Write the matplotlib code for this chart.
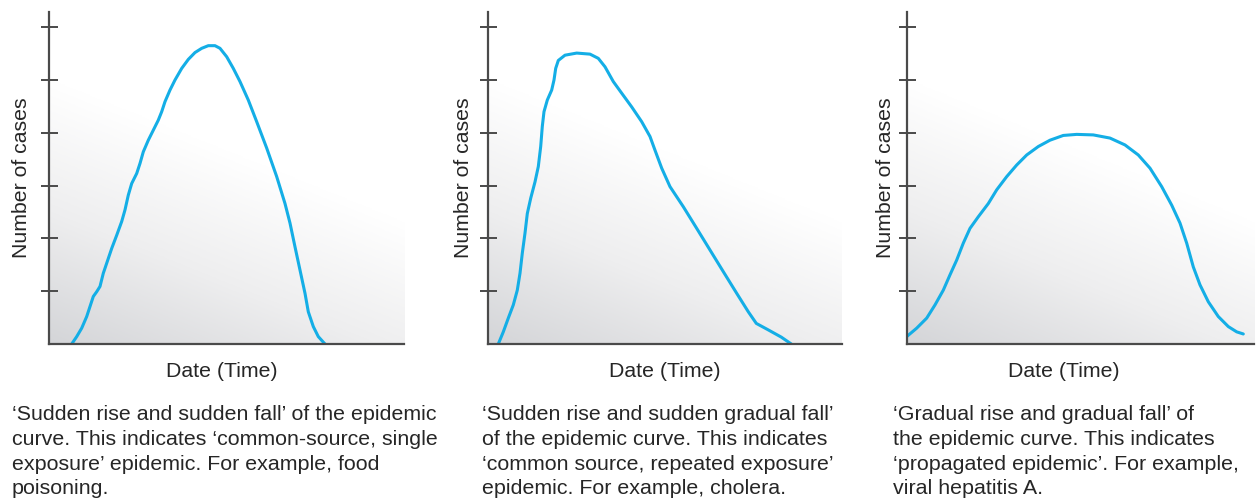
import numpy as np
import matplotlib
matplotlib.use("Agg")
import matplotlib.pyplot as plt
from matplotlib.colors import LinearSegmentedColormap

plt.rcParams['font.family'] = ['Liberation Sans', 'DejaVu Sans']

# ---- data (x in arbitrary time units, y in tick units) ----
x1 = [2.27, 2.77, 3.27, 3.77, 4.10, 4.43, 4.77, 5.10, 5.43, 5.77, 6.27, 6.77, 7.27, 7.60,
      7.93, 8.27, 8.77, 9.10, 9.43, 9.93, 10.43, 10.93, 11.27, 11.60, 12.10, 12.60, 13.27,
      13.93, 14.60, 15.27, 15.93, 16.60, 17.10, 17.77, 18.43, 19.10, 19.93, 20.77, 21.77,
      22.77, 23.60, 24.10, 24.60, 25.10, 25.60, 25.93, 26.43, 26.93, 27.60]
y1 = [0.0, 0.14, 0.30, 0.52, 0.71, 0.90, 0.99, 1.09, 1.34, 1.53, 1.81, 2.06, 2.32, 2.54,
      2.82, 3.04, 3.23, 3.42, 3.64, 3.86, 4.05, 4.24, 4.40, 4.59, 4.81, 5.00, 5.22,
      5.39, 5.52, 5.60, 5.65, 5.65, 5.60, 5.44, 5.22, 4.97, 4.62, 4.21, 3.71,
      3.17, 2.66, 2.29, 1.84, 1.40, 0.96, 0.61, 0.33, 0.14, 0.0]

x2 = [1.03, 1.53, 2.03, 2.53, 2.93, 3.20, 3.43, 3.70, 3.93, 4.27, 4.70, 5.03, 5.27, 5.43,
      5.60, 5.93, 6.37, 6.60, 6.77, 7.03, 7.70, 8.87, 10.20, 11.03, 11.70, 12.53, 13.37,
      14.37, 15.37, 16.20, 16.70, 17.37, 18.20, 19.53, 20.87, 22.20, 23.53, 24.87, 26.03,
      26.83, 28.00, 29.33, 30.33]
y2 = [0.0, 0.23, 0.49, 0.74, 1.02, 1.34, 1.72, 2.10, 2.47, 2.76, 3.07, 3.36, 3.74, 4.12,
      4.40, 4.62, 4.81, 5.00, 5.22, 5.37, 5.47, 5.51, 5.49, 5.41, 5.25, 4.97, 4.75,
      4.49, 4.21, 3.93, 3.67, 3.33, 2.98, 2.60, 2.19, 1.78, 1.37, 0.96, 0.61,
      0.39, 0.27, 0.13, 0.0]

x3 = [0.02, 1.02, 2.02, 2.85, 3.68, 4.35, 5.02, 5.68, 6.35, 7.18, 8.18, 9.02, 10.02, 11.02,
      12.02, 13.18, 14.35, 15.68, 17.02, 18.68, 20.35, 21.85, 23.18, 24.35, 25.52, 26.52,
      27.35, 28.02, 28.68, 29.35, 30.18, 31.18, 32.18, 33.02, 33.68]
y3 = [0.14, 0.30, 0.49, 0.74, 1.02, 1.31, 1.59, 1.91, 2.19, 2.41, 2.66, 2.92, 3.17, 3.39,
      3.58, 3.74, 3.86, 3.95, 3.97, 3.96, 3.90, 3.77, 3.58, 3.33, 2.98, 2.63,
      2.29, 1.91, 1.46, 1.12, 0.80, 0.52, 0.33, 0.23, 0.19]

y_ticks = [1, 2, 3, 4, 5, 6]
x_label = "Date (Time)"
y_label = "Number of cases"
captions = [
    ["\u2018Sudden rise and sudden fall\u2019 of the epidemic",
     "curve. This indicates \u2018common-source, single",
     "exposure\u2019 epidemic. For example, food",
     "poisoning."],
    ["\u2018Sudden rise and sudden gradual fall\u2019",
     "of the epidemic curve. This indicates",
     "\u2018common source, repeated exposure\u2019",
     "epidemic. For example, cholera."],
    ["\u2018Gradual rise and gradual fall\u2019 of",
     "the epidemic curve. This indicates",
     "\u2018propagated epidemic\u2019. For example,",
     "viral hepatitis A."],
]
series = [(x1, y1), (x2, y2), (x3, y3)]

# ---- layout (pixels) ----
W, H = 1256, 500
fig = plt.figure(figsize=(W / 100, H / 100), dpi=100)
fig.patch.set_facecolor('white')

axes_px = [(49, 404), (488, 842), (906.5, 1254)]
ax_top, ax_bot = 12, 344
xmax = [35.5, 35.4, 34.75]
ylab_x = [27, 469, 891]
xlab_x = [222, 665, 1064]
cap_x = [12, 482, 893]
cap_base = [420, 445, 469.5, 494]

axis_col = '#4a4a4a'
curve_col = '#14aee6'
text_col = '#262626'

cmap = LinearSegmentedColormap.from_list('g', ['#d4d5d8', '#eeeeef', '#ffffff'])
u = np.linspace(0, 1, 300)
v = np.linspace(0, 1, 300)
U, V = np.meshgrid(u, v)
G = np.clip(0.54 * U + 1.25 * V, 0, 1)

ppt = 72 / 100  # points per pixel
for i, ((l, r), (xs, ys)) in enumerate(zip(axes_px, series)):
    ax = fig.add_axes([l / W, 1 - ax_bot / H, (r - l) / W, (ax_bot - ax_top) / H])
    ax.set_xlim(0, xmax[i])
    ax.set_ylim(0, (ax_bot - ax_top) / 52.8)
    ax.imshow(G, extent=[0, 1, 0, 1], transform=ax.transAxes, origin='lower',
              cmap=cmap, vmin=0, vmax=1, aspect='auto', zorder=0, interpolation='bilinear')
    ax.plot(xs, ys, color=curve_col, lw=2.2, solid_joinstyle='round',
            solid_capstyle='round', zorder=3)
    for s in ['top', 'right']:
        ax.spines[s].set_visible(False)
    for s in ['left', 'bottom']:
        ax.spines[s].set_color(axis_col)
        ax.spines[s].set_linewidth(1.6)
        ax.spines[s].set_zorder(4)
    ax.set_xticks([])
    ax.set_yticks(y_ticks)
    ax.set_yticklabels([])
    ax.tick_params(axis='y', direction='inout', length=17 * ppt, width=1.4,
                   color=axis_col)
    ax.set_facecolor('white')

    fig.text(ylab_x[i] / W, 1 - 178 / H, y_label, rotation=90, rotation_mode='anchor',
             ha='center', va='baseline', fontsize=15.3, color=text_col)
    fig.text(xlab_x[i] / W, 1 - 377 / H, x_label, ha='center', va='baseline',
             fontsize=15.3, color=text_col)
    for j, line in enumerate(captions[i]):
        fig.text(cap_x[i] / W, 1 - cap_base[j] / H, line, ha='left', va='baseline',
                 fontsize=15.4, color=text_col)

fig.savefig('out.png', dpi=100, facecolor='white')
